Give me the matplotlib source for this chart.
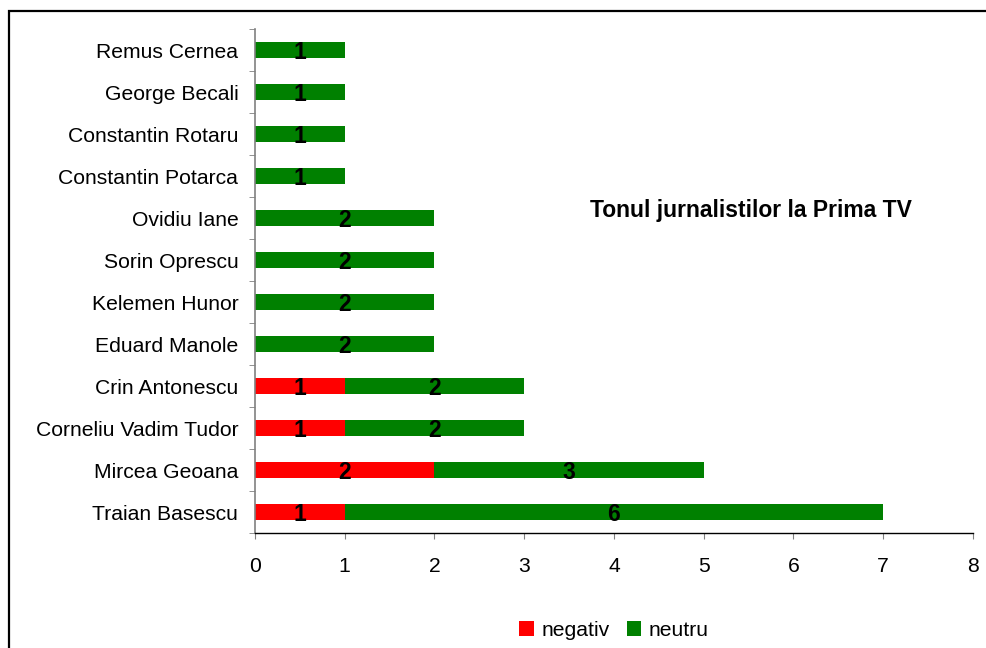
import matplotlib
matplotlib.use("Agg")
import matplotlib.pyplot as plt
import matplotlib.patches as mpatches
import numpy as np

plt.rcParams['font.family'] = ['Liberation Sans', 'DejaVu Sans']

categories = ["Traian Basescu", "Mircea Geoana", "Corneliu Vadim Tudor", "Crin Antonescu",
              "Eduard Manole", "Kelemen Hunor", "Sorin Oprescu", "Ovidiu Iane",
              "Constantin Potarca", "Constantin Rotaru", "George Becali", "Remus Cernea"]
negativ = [1, 2, 1, 1, 0, 0, 0, 0, 0, 0, 0, 0]
neutru = [6, 3, 2, 2, 2, 2, 2, 2, 1, 1, 1, 1]
x_ticks = [0, 1, 2, 3, 4, 5, 6, 7, 8]
title = "Tonul jurnalistilor la Prima TV"

W, H = 987, 648
fig = plt.figure(figsize=(W/100, H/100), dpi=100)
ax = fig.add_axes([255/W, 1-533/H, (973-255)/W, (533-29)/H])

y = np.arange(len(categories))
neg = np.array(negativ)
neu = np.array(neutru)
b1 = ax.barh(y, neg, height=0.4, color='#FF0000', label='negativ')
b2 = ax.barh(y, neu, left=neg, height=0.4, color='#008000', label='neutru')

fs = 15.2
bfs = 16.5
for i in range(len(categories)):
    if neg[i] > 0:
        ax.text(neg[i]/2, y[i]-0.055, str(neg[i]), ha='center', va='center',
                fontsize=bfs, fontweight='bold', color='black')
    if neu[i] > 0:
        ax.text(neg[i] + neu[i]/2, y[i]-0.055, str(neu[i]), ha='center', va='center',
                fontsize=bfs, fontweight='bold', color='black')

ax.set_xlim(0, 8)
ax.set_ylim(-0.5, len(categories)-0.5)
ax.set_xticks(x_ticks)
ax.set_xticklabels([str(v) for v in x_ticks], fontsize=fs)
ax.set_yticks(y)
ax.set_yticklabels(categories, fontsize=fs)
ax.set_yticks(np.arange(-0.5, len(categories), 1.0), minor=True)
ax.tick_params(axis='y', which='major', length=0, pad=12)
ax.tick_params(axis='y', which='minor', length=4, color='#808080', direction='out')
ax.tick_params(axis='x', which='major', length=4, color='#808080', direction='out', pad=13)
for s in ['top', 'right']:
    ax.spines[s].set_visible(False)
ax.spines['left'].set_color('#808080')
ax.spines['left'].set_linewidth(1.2)
ax.spines['bottom'].set_color('black')
ax.spines['bottom'].set_linewidth(1.0)

fig.text(751/W, 1-211/H, title, ha='center', va='center', fontsize=bfs, fontweight='bold')

fig.legend(handles=[b1, b2], labels=['negativ', 'neutru'], loc='center',
           bbox_to_anchor=(614/W, 1-630/H), ncol=2, frameon=False, fontsize=fs,
           handlelength=0.7, handleheight=0.7, handletextpad=0.35, columnspacing=0.8)

frame = mpatches.Rectangle((9/W, -0.1), 1.2, (1-11/H)+0.1, transform=fig.transFigure,
                           fill=False, edgecolor='black', linewidth=1.6)
fig.patches.append(frame)

fig.savefig('out.png', dpi=100)
